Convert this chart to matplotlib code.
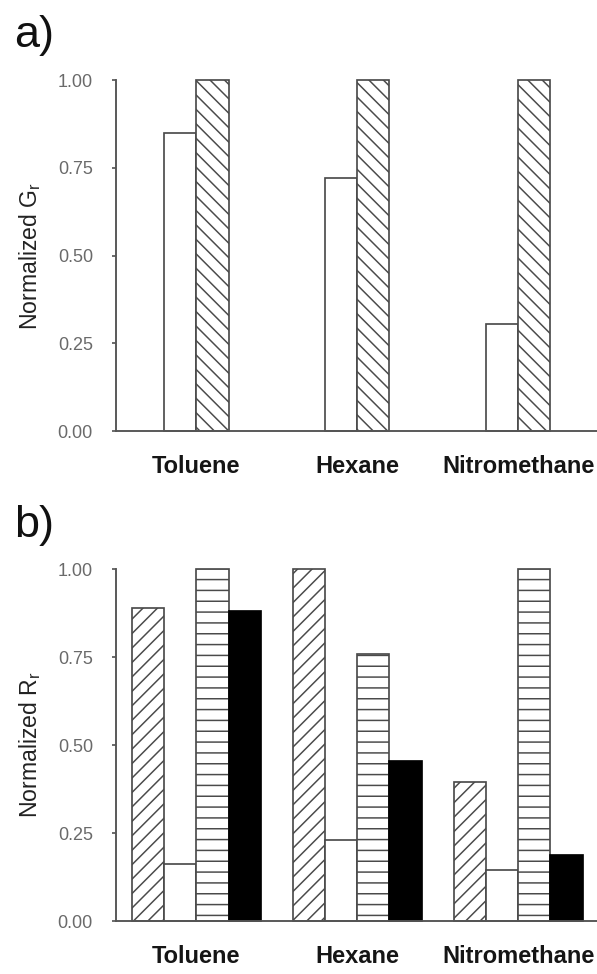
import matplotlib
matplotlib.use("Agg")
import matplotlib.pyplot as plt
import numpy as np

DPI = 130
W, H = 597, 974


def pt(px):
    """Convert a pixel size to points at the output resolution."""
    return px * 72.0 / DPI


plt.rcParams['font.family'] = ['Liberation Sans', 'DejaVu Sans']
plt.rcParams['hatch.linewidth'] = pt(1.5)
plt.rcParams['hatch.color'] = '#4a4a4a'

solvents = ["Toluene", "Hexane", "Nitromethane"]

# panel a: normalized G_r
gr_open = [0.85, 0.72, 0.305]
gr_hatched = [1.00, 1.00, 1.00]

# panel b: normalized R_r
rr_diag = [0.888, 1.00, 0.396]
rr_open = [0.162, 0.23, 0.145]
rr_lines = [1.00, 0.758, 1.00]
rr_black = [0.881, 0.455, 0.188]

yticks = [0.0, 0.25, 0.50, 0.75, 1.00]
ytick_labels = ["0.00", "0.25", "0.50", "0.75", "1.00"]

fig = plt.figure(figsize=(W / DPI, H / DPI), dpi=DPI)

edge = '#4a4a4a'
axis_col = '#555555'
x = np.arange(len(solvents))
bw = 0.2


def style_axis(ax, ylabel):
    ax.set_xlim(-0.5, 2.49)
    ax.set_ylim(0, 1.0)
    for s in ('top', 'right'):
        ax.spines[s].set_visible(False)
    for s in ('left', 'bottom'):
        ax.spines[s].set_color(axis_col)
        ax.spines[s].set_linewidth(pt(1.9))
    ax.set_yticks(yticks)
    ax.set_yticklabels(ytick_labels)
    ax.tick_params(axis='y', direction='out', length=pt(4), width=pt(1.7),
                   color=axis_col, labelcolor='#6a6a6a', labelsize=pt(18),
                   pad=pt(19))
    ax.set_xticks(x)
    ax.set_xticklabels(solvents, fontweight='bold')
    ax.tick_params(axis='x', length=0, labelsize=pt(23.6),
                   labelcolor='#151515', pad=pt(24))
    ax.set_ylabel(ylabel, fontsize=pt(23), color='#222222', labelpad=pt(15))


def bars(ax, offset, vals, hatch=None, color='white', ec=edge):
    return ax.bar(x + offset, vals, width=bw, color=color, edgecolor=ec,
                  hatch=hatch, linewidth=pt(1.7), clip_on=False, zorder=2)


# panel a
ax1 = fig.add_axes([116 / W, 1 - 431 / H, 1 - 116 / W, (431 - 80) / H])
bars(ax1, -0.1, gr_open)
bars(ax1, 0.1, gr_hatched, hatch='\\\\\\')
style_axis(ax1, r"Normalized G$_\mathregular{r}$")

# panel b
ax2 = fig.add_axes([116 / W, 1 - 921 / H, 1 - 116 / W, (921 - 569) / H])
bars(ax2, -0.3, rr_diag, hatch='///')
bars(ax2, -0.1, rr_open)
bars(ax2, 0.1, rr_lines, hatch='--')
bars(ax2, 0.3, rr_black, color='black', ec='black')
style_axis(ax2, r"Normalized R$_\mathregular{r}$")

fig.text(14 / W, 1 - 47 / H, "a)", fontsize=pt(45), color='#111111', va='baseline')
fig.text(14 / W, 1 - 537 / H, "b)", fontsize=pt(45), color='#111111', va='baseline')

fig.savefig("out.png", dpi=DPI)
